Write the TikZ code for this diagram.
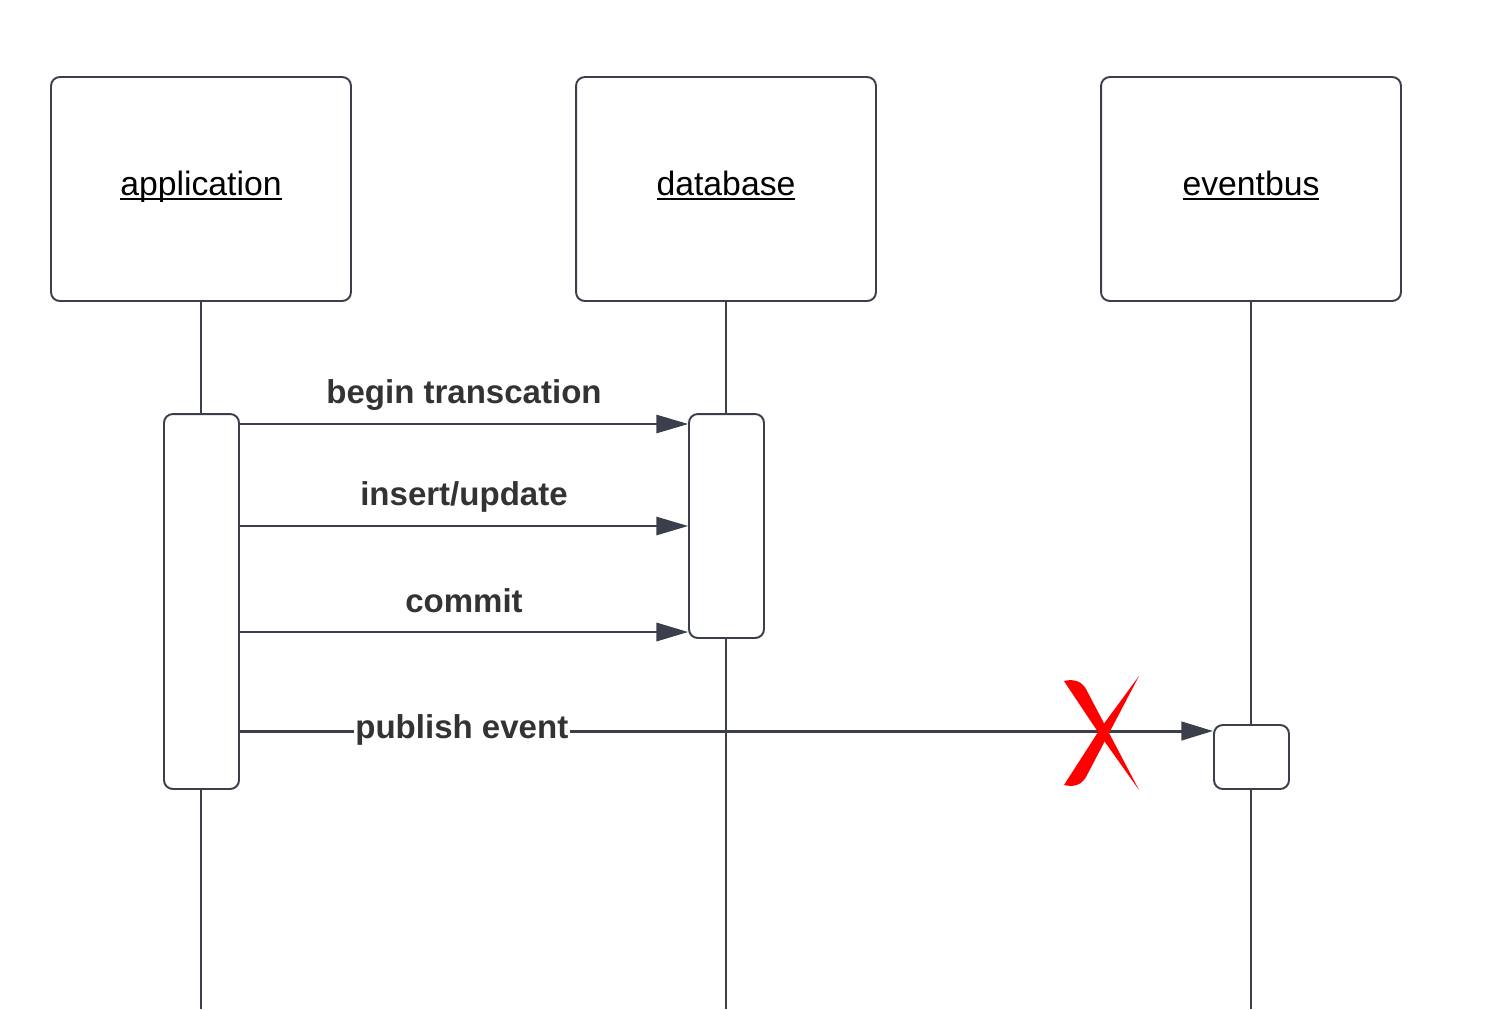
\documentclass[tikz,border=0pt]{standalone}
\usepackage{fontspec}
\setmainfont{Liberation Sans}
\usetikzlibrary{arrows.meta}

\definecolor{linegray}{HTML}{3A3F4B}
\definecolor{labelgray}{HTML}{333333}
\definecolor{crossred}{HTML}{FF0000}

\newcommand\lifename[1]{\setbox0\hbox{#1}%
	\raisebox{-3.6pt}[0pt][0pt]{\rlap{\rule[-2.5pt]{\wd0}{1.1pt}}\box0}}

\tikzset{
	header/.style = {draw=linegray, line width=1.1pt, rounded corners=5pt,
		minimum width=6cm, minimum height=4.48cm, inner sep=0pt,
		font=\fontsize{19.2}{22}\selectfont},
	activation/.style = {draw=linegray, line width=1.1pt, rounded corners=5pt,
		minimum width=1.5cm, inner sep=0pt, fill=white},
	lifeline/.style = {draw=linegray, line width=0.85pt},
	msg/.style = {draw=linegray, line width=0.7pt,
		-{Triangle[length=18pt, width=10.5pt]}},
	msglabel/.style = {text=labelgray, inner sep=1pt,
		font=\fontsize{18.8}{22}\selectfont\bfseries}
}

\begin{document}
\begin{tikzpicture}[x=0.02cm, y=-0.02cm]
\useasboundingbox (0, 0) rectangle (1509, 1009);

\node[header] (app) at (201, 189) {\lifename{application}};
\node[header] (db) at (726, 189) {\lifename{database}};
\node[header] (bus) at (1251, 189) {\lifename{eventbus}};

\coordinate (append) at (201, 1009);
\coordinate (dbend) at (726, 1009);
\coordinate (busend) at (1251, 1009);

% lifelines
\draw[lifeline] (app.south) -- (append);
\draw[lifeline] (db.south) -- (dbend);
\draw[lifeline] (bus.south) -- (busend);

\node[activation, minimum height=7.5cm] (appact) at (201.5, 601.5) {};
\node[activation, minimum height=4.48cm] (dbact) at (726.5, 526) {};
\node[activation, minimum height=1.28cm] (busact) at (1251.5, 757) {};

% messages
\draw[msg] (appact.east |- 0, 424) -- (dbact.west |- 0, 424)
	node[msglabel, midway, yshift=0.58cm] (beginlbl) {begin transcation};
\draw[msg] (appact.east |- 0, 526) -- (dbact.west |- 0, 526)
	node[msglabel, midway, yshift=0.58cm] (insertlbl) {insert/update};
\draw[msg, line width=1.1pt] (appact.east |- 0, 632) -- (dbact.west |- 0, 632)
	node[msglabel, midway, yshift=0.62cm] (commitlbl) {commit};
\draw[msg, line width=1.7pt] (appact.east |- 0, 731) -- (busact.west |- 0, 731)
	node[msglabel, pos=0.228, yshift=0.02cm, fill=white] (publishlbl) {publish event};

% red cross
\fill[crossred]
	(1064, 681) .. controls (1072, 679) and (1081, 680) ..
	(1086, 689) --
	(1139, 790) --
	(1100, 735) --
	(1064, 681);
\fill[crossred]
	(1064, 785) .. controls (1072, 787) and (1081, 786) ..
	(1086, 777) --
	(1139, 676) --
	(1100, 729) --
	(1064, 785);

\end{tikzpicture}
\end{document}
